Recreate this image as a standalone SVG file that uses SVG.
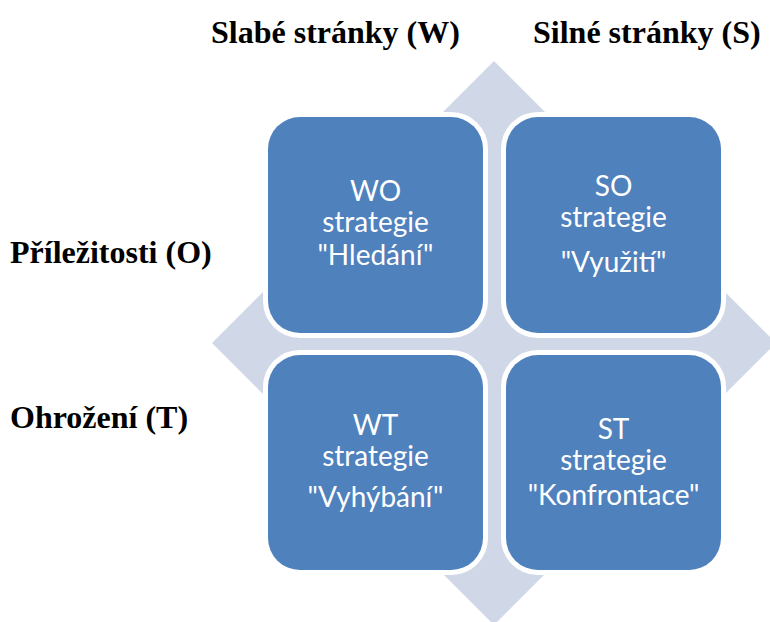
<svg xmlns="http://www.w3.org/2000/svg" width="770" height="622" viewBox="0 0 770 622">
  <style>
    .hdr { font-family: "Liberation Serif", "Times New Roman", serif; font-weight: bold; font-size: 32px; fill: #000; }
    .box { fill: #4F81BD; stroke: #FFFFFF; stroke-width: 10; paint-order: stroke; }
    .lbl { font-family: Lato, "Open Sans", sans-serif; font-size: 28px; fill: #FFFFFF; text-anchor: middle; }
  </style>
  <rect width="770" height="622" fill="#FFFFFF"/>
  <g id="background">
    <polygon points="494,61 776,343 494,625 212,343" fill="#D0D8E8"/>
  </g>
  <g id="headers">
    <text class="hdr" x="211" y="43">Slabé stránky (W)</text>
    <text class="hdr" x="533" y="43">Silné stránky (S)</text>
    <text class="hdr" x="10" y="263">Příležitosti (O)</text>
    <text class="hdr" x="10" y="428">Ohrožení (T)</text>
  </g>
  <g id="node-wo">
    <rect class="box" x="268" y="117" width="215" height="216" rx="32" ry="32"/>
    <text class="lbl" x="375.5" y="201">WO</text>
    <text class="lbl" x="375.5" y="232">strategie</text>
    <text class="lbl" x="375.5" y="265">"Hledání"</text>
  </g>
  <g id="node-so">
    <rect class="box" x="506" y="117" width="215" height="216" rx="32" ry="32"/>
    <text class="lbl" x="613.5" y="196">SO</text>
    <text class="lbl" x="613.5" y="227">strategie</text>
    <text class="lbl" x="613.5" y="272">"Využití"</text>
  </g>
  <g id="node-wt">
    <rect class="box" x="268" y="355" width="215" height="215" rx="32" ry="32"/>
    <text class="lbl" x="375.5" y="435">WT</text>
    <text class="lbl" x="375.5" y="466">strategie</text>
    <text class="lbl" x="375.5" y="507">"Vyhýbání"</text>
  </g>
  <g id="node-st">
    <rect class="box" x="506" y="355" width="215" height="215" rx="32" ry="32"/>
    <text class="lbl" x="613.5" y="439">ST</text>
    <text class="lbl" x="613.5" y="470">strategie</text>
    <text class="lbl" x="613.5" y="505">"Konfrontace"</text>
  </g>
  <g id="connectors"/>
</svg>
